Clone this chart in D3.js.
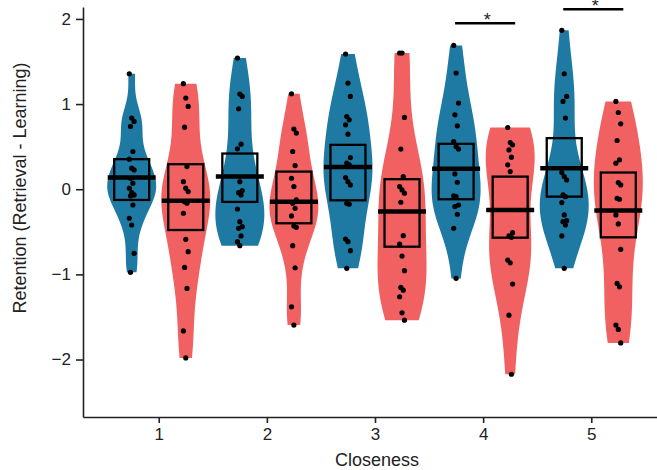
<!DOCTYPE html>
<html>
<head>
<meta charset="utf-8">
<script src="https://cdn.jsdelivr.net/npm/d3@7"></script>
<style>
	body { margin: 0; background: #fff; }
	text { font-family: "Liberation Sans", Arial, sans-serif; }
</style>
</head>
<body>
<svg width="657" height="470"></svg>
<script>
var closeness = [1, 2, 3, 4, 5]
var conditions = ["blue", "red"]

// raw points per violin, in order: 1 blue, 1 red, 2 blue, 2 red, ...
var points = [
	[1.356, 0.835, 0.796, 0.737, 0.443, 0.353, 0.247, 0.227, 0.129, 0.071, 0.012, -0.04, -0.067, -0.079, -0.185, -0.341, -0.42, -0.753, -0.976],
	[1.239, 1.071, 0.972, 0.729, 0.266, 0.089, 0.012, -0.028, -0.146, -0.165, -0.282, -0.588, -0.734, -0.918, -1.165, -1.664, -1.981],
	[1.541, 1.118, 1.09, 0.945, 0.529, 0.474, 0.089, -0.016, -0.04, -0.067, -0.232, -0.381, -0.44, -0.459, -0.549, -0.616, -0.663],
	[1.121, 0.706, 0.659, 0.443, 0.278, 0.129, 0.031, -0.126, -0.165, -0.224, -0.314, -0.432, -0.447, -0.663, -0.922, -1.381, -1.596],
	[1.588, 1.247, 1.09, 0.854, 0.815, 0.756, 0.647, 0.372, 0.306, 0.286, 0.137, 0.089, 0.051, -0.165, -0.176, -0.585, -0.616, -0.722, -0.929],
	[1.6, 1.6, 0.843, 0.471, 0.148, 0.031, -0.008, -0.047, -0.153, -0.546, -0.644, -0.785, -0.957, -1.153, -1.185, -1.263, -1.451, -1.538],
	[1.689, 1.365, 1.012, 0.874, 0.745, 0.56, 0.501, 0.471, 0.18, 0.082, -0.079, -0.087, -0.185, -0.204, -0.294, -0.459, -1.047],
	[0.725, 0.548, 0.521, 0.462, 0.376, 0.286, 0.207, -0.51, -0.549, -0.565, -0.832, -0.864, -1.114, -1.479, -2.173],
	[1.866, 1.356, 1.09, 1.031, 0.835, 0.196, 0.148, 0.109, -0.067, -0.087, -0.157, -0.302, -0.369, -0.381, -0.42, -0.549, -0.929],
	[1.031, 0.901, 0.768, 0.572, 0.345, 0.306, 0.078, 0.051, -0.106, -0.118, -0.302, -0.408, -0.706, -1.106, -1.146, -1.596, -1.647, -1.805]
]

// summary boxes
var centers = [0.137, -0.134, 0.148, -0.146, 0.262, -0.263, 0.239, -0.244, 0.247, -0.251]
var boxHigh = [0.353, 0.294, 0.419, 0.207, 0.521, 0.118, 0.533, 0.148, 0.6, 0.196]
var boxLow = [-0.126, -0.479, -0.149, -0.4, -0.13, -0.675, -0.118, -0.569, -0.087, -0.565]

var sigGroups = [4, 5]
var yTicks = [-2, -1, 0, 1, 2]

var colors = { blue: "#1f7aa3", red: "#f16161" }

var svg = d3.select("svg")

var y = d3.scaleLinear().domain([-2.675, 2.14]).range([417, 7])

var keys = []
closeness.forEach(function (c) {
	conditions.forEach(function (k) { keys.push(c + "-" + k) })
})
var xPos = d3.scalePoint().domain(keys).range([131.7, 618.3])

// ticks sit midway between each pair
var tick1 = (xPos("1-blue") + xPos("1-red")) / 2
var tick5 = (xPos("5-blue") + xPos("5-red")) / 2
var xTick = d3.scaleLinear().domain([1, 5]).range([tick1, tick5])
var xMin = xTick.invert(83), xMax = xTick.invert(657)
xTick.domain([xMin, xMax]).range([83, 657])

var violins = keys.map(function (key, i) {
	return {
		key: key,
		cond: key.split("-")[1],
		values: points[i],
		center: centers[i],
		hi: boxHigh[i],
		lo: boxLow[i]
	}
})

function kde(values) {
	var n = values.length
	var sd = d3.deviation(values)
	var sorted = values.slice().sort(d3.ascending)
	var iqr = d3.quantile(sorted, 0.75) - d3.quantile(sorted, 0.25)
	var bw = 0.9 * Math.min(sd, iqr / 1.34) * Math.pow(n, -0.2)
	var lo = d3.min(values), hi = d3.max(values)
	var steps = 80
	var out = []
	for (var s = 0; s <= steps; s++) {
		var v = lo + (hi - lo) * s / steps
		var dens = d3.mean(values, function (x) {
			var u = (v - x) / bw
			return Math.exp(-0.5 * u * u)
		})
		out.push([v, dens])
	}
	return out
}

var halfWidth = 24.5

var g = svg.append("g")

violins.forEach(function (d) {
	var dens = kde(d.values)
	var maxD = d3.max(dens, function (p) { return p[1] })
	var w = d3.scaleLinear().domain([0, maxD]).range([0, halfWidth])
	var cx = xPos(d.key)
	var area = d3.area()
		.y(function (p) { return y(p[0]) })
		.x0(function (p) { return cx - w(p[1]) })
		.x1(function (p) { return cx + w(p[1]) })
		.curve(d3.curveBasis)
	g.append("path")
		.attr("d", area(dens))
		.attr("fill", colors[d.cond])
})

// boxes and center lines
violins.forEach(function (d) {
	var cx = xPos(d.key)
	g.append("rect")
		.attr("x", cx - 17.5)
		.attr("width", 35)
		.attr("y", y(d.hi))
		.attr("height", y(d.lo) - y(d.hi))
		.attr("fill", "none")
		.attr("stroke", "#000")
		.attr("stroke-width", 2.3)
	g.append("line")
		.attr("x1", cx - 24)
		.attr("x2", cx + 24)
		.attr("y1", y(d.center))
		.attr("y2", y(d.center))
		.attr("stroke", "#000")
		.attr("stroke-width", 4.5)
})

// points with a small fixed jitter
violins.forEach(function (d) {
	var cx = xPos(d.key)
	g.selectAll(null)
		.data(d.values)
		.enter()
		.append("circle")
		.attr("cx", function (v, i) { return cx + ((i * 7) % 5 - 2) * 1.2 })
		.attr("cy", function (v) { return y(v) })
		.attr("r", 2.6)
		.attr("fill", "#000")
})

// significance markers
var sigY = { 4: 23.3, 5: 9.3 }
sigGroups.forEach(function (c) {
	var x1 = xPos(c + "-blue") - 1
	var x2 = xPos(c + "-red") + 5
	svg.append("line")
		.attr("x1", x1).attr("x2", x2)
		.attr("y1", sigY[c]).attr("y2", sigY[c])
		.attr("stroke", "#000")
		.attr("stroke-width", 2.5)
	svg.append("text")
		.attr("x", (x1 + x2) / 2 + 2)
		.attr("y", sigY[c] + 3)
		.attr("text-anchor", "middle")
		.attr("font-size", 18)
		.attr("fill", "#222")
		.text("*")
})

// axes
svg.append("g")
	.attr("transform", "translate(83,0)")
	.call(d3.axisLeft(y).tickValues(yTicks).tickFormat(d3.format("d")).tickSize(7).tickPadding(5).tickSizeOuter(0))
svg.append("g")
	.attr("transform", "translate(0,417)")
	.call(d3.axisBottom(xTick).tickValues(closeness).tickFormat(d3.format("d")).tickSize(6).tickPadding(5).tickSizeOuter(0))

svg.selectAll(".domain, .tick line")
	.attr("stroke", "#222")
	.attr("stroke-width", 1.6)
svg.selectAll(".tick text")
	.attr("font-size", 17)
	.attr("fill", "#222")
	.attr("font-family", "Liberation Sans, Arial, sans-serif")

svg.append("text")
	.attr("transform", "translate(20,188) rotate(-90)")
	.attr("text-anchor", "middle")
	.attr("dy", "0.35em")
	.attr("font-size", 18)
	.attr("fill", "#222")
	.text("Retention (Retrieval - Learning)")

svg.append("text")
	.attr("x", 377)
	.attr("y", 466)
	.attr("text-anchor", "middle")
	.attr("font-size", 18)
	.attr("fill", "#222")
	.text("Closeness")
</script>
</body>
</html>
